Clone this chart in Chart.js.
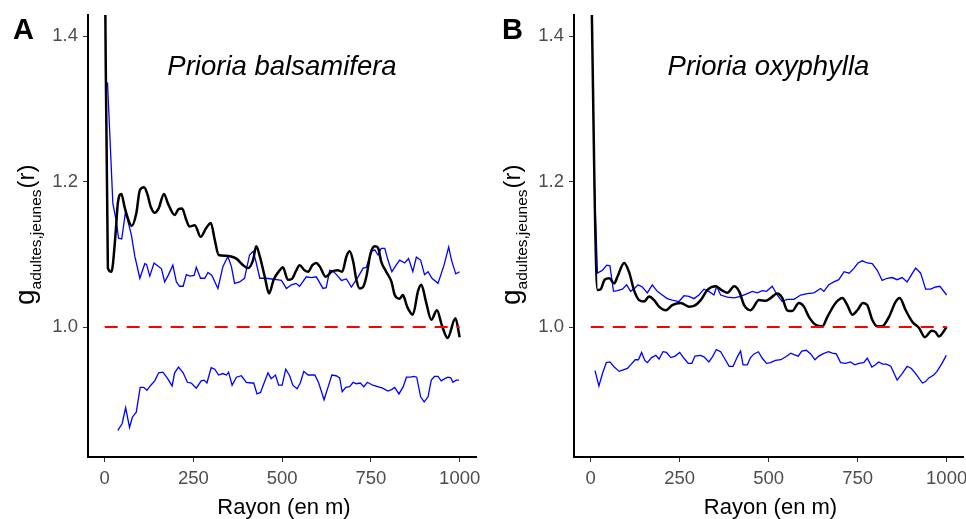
<!DOCTYPE html>
<html>
<head>
<meta charset="utf-8">
<script src="https://cdn.jsdelivr.net/npm/chart.js@4.4.1/dist/chart.umd.min.js"></script>
<style>
  body { margin: 0; background: #fff; width: 966px; height: 519px; overflow: hidden; }
  .panel { position: absolute; top: 0; }
</style>
</head>
<body>
<div class="panel" style="left:0"><canvas id="chartA" width="483" height="519"></canvas></div>
<div class="panel" style="left:486px"><canvas id="chartB" width="480" height="519"></canvas></div>
<script>
const xTicks = [0, 250, 500, 750, 1000];
const yTicks = [1.0, 1.2, 1.4];
const refX = [0, 1000];
const refY = [1, 1];

// A : Prioria balsamifera - observed g(r)
const obsAx = [0, 9, 19, 30, 37, 47, 56, 70, 76, 89, 99, 111, 120, 130, 141, 152, 167, 178, 197, 208, 218, 230, 239, 254, 270, 286, 299, 310, 321, 340, 356, 371, 390, 404, 418, 427, 437, 451, 463, 476, 493, 502, 516, 527, 538, 549, 563, 573, 585, 596, 606, 623, 639, 657, 669, 681, 690, 700, 709, 718, 728, 737, 749, 761, 770, 779, 793, 808, 817, 831, 840, 852, 868, 883, 892, 905, 920, 936, 950, 966, 988, 1000];
const obsAy = [1.55, 1.081, 1.076, 1.124, 1.17, 1.183, 1.165, 1.143, 1.139, 1.156, 1.188, 1.192, 1.183, 1.165, 1.157, 1.163, 1.183, 1.17, 1.154, 1.162, 1.163, 1.147, 1.138, 1.14, 1.124, 1.136, 1.143, 1.12, 1.099, 1.098, 1.097, 1.094, 1.085, 1.081, 1.092, 1.111, 1.097, 1.069, 1.046, 1.065, 1.078, 1.082, 1.065, 1.066, 1.076, 1.085, 1.078, 1.076, 1.085, 1.088, 1.083, 1.069, 1.076, 1.078, 1.076, 1.097, 1.104, 1.09, 1.065, 1.053, 1.055, 1.069, 1.101, 1.111, 1.109, 1.09, 1.076, 1.062, 1.044, 1.039, 1.044, 1.028, 1.017, 1.05, 1.058, 1.035, 1.01, 1.023, 1.002, 0.985, 1.012, 0.986];

// A : upper envelope
const hiAx = [8, 23, 33, 39, 48, 58, 63, 75, 85, 99, 113, 118, 127, 139, 150, 160, 169, 180, 192, 202, 211, 221, 230, 240, 252, 258, 270, 282, 291, 302, 319, 333, 347, 357, 366, 380, 394, 408, 418, 426, 437, 456, 470, 484, 498, 512, 526, 539, 549, 568, 582, 596, 615, 624, 634, 643, 653, 667, 681, 695, 714, 728, 737, 751, 761, 770, 779, 789, 798, 809, 821, 831, 845, 856, 868, 878, 890, 901, 911, 922, 939, 956, 969, 977, 989, 1000];
const hiAy = [1.336, 1.17, 1.145, 1.122, 1.121, 1.156, 1.15, 1.127, 1.097, 1.067, 1.087, 1.086, 1.07, 1.088, 1.084, 1.08, 1.062, 1.072, 1.085, 1.062, 1.056, 1.056, 1.072, 1.07, 1.071, 1.082, 1.067, 1.067, 1.075, 1.071, 1.053, 1.083, 1.097, 1.083, 1.06, 1.062, 1.067, 1.099, 1.104, 1.09, 1.067, 1.067, 1.066, 1.065, 1.064, 1.053, 1.058, 1.06, 1.056, 1.069, 1.068, 1.069, 1.053, 1.054, 1.078, 1.077, 1.072, 1.064, 1.066, 1.055, 1.069, 1.081, 1.082, 1.104, 1.106, 1.099, 1.108, 1.108, 1.092, 1.076, 1.085, 1.092, 1.088, 1.094, 1.076, 1.096, 1.092, 1.072, 1.076, 1.067, 1.06, 1.085, 1.11, 1.092, 1.073, 1.076];

// A : lower envelope
const loAx = [37, 49, 59, 70, 78, 89, 100, 110, 119, 130, 141, 152, 164, 176, 190, 197, 208, 221, 233, 244, 258, 272, 280, 288, 300, 310, 321, 333, 343, 349, 359, 371, 385, 399, 413, 420, 429, 439, 449, 460, 469, 481, 490, 500, 510, 521, 530, 542, 551, 561, 573, 592, 603, 618, 629, 640, 652, 662, 669, 679, 690, 700, 709, 720, 730, 740, 755, 769, 783, 798, 808, 817, 829, 841, 850, 862, 871, 879, 890, 900, 911, 920, 929, 939, 948, 958, 967, 975, 981, 990, 998];
const loAy = [0.858, 0.867, 0.889, 0.862, 0.876, 0.883, 0.917, 0.917, 0.913, 0.92, 0.926, 0.937, 0.938, 0.93, 0.919, 0.937, 0.945, 0.937, 0.924, 0.923, 0.916, 0.926, 0.927, 0.923, 0.944, 0.942, 0.934, 0.936, 0.934, 0.938, 0.92, 0.931, 0.933, 0.924, 0.923, 0.923, 0.908, 0.91, 0.923, 0.937, 0.929, 0.934, 0.92, 0.92, 0.942, 0.933, 0.92, 0.915, 0.923, 0.939, 0.934, 0.934, 0.923, 0.9, 0.917, 0.934, 0.933, 0.93, 0.911, 0.917, 0.918, 0.924, 0.922, 0.923, 0.918, 0.924, 0.92, 0.918, 0.916, 0.912, 0.914, 0.917, 0.908, 0.918, 0.931, 0.931, 0.932, 0.931, 0.904, 0.897, 0.904, 0.927, 0.932, 0.932, 0.926, 0.929, 0.931, 0.93, 0.924, 0.927, 0.927];

// B : Prioria oxyphylla - observed g(r)
const obsBx = [0, 19, 28, 39, 52, 66, 75, 94, 108, 122, 136, 150, 164, 178, 192, 211, 229, 253, 276, 290, 309, 328, 351, 370, 384, 403, 417, 431, 449, 473, 492, 506, 524, 538, 552, 566, 585, 599, 613, 632, 651, 665, 688, 707, 721, 735, 749, 765, 777, 791, 805, 819, 838, 857, 868, 885, 904, 922, 939, 958, 969, 978, 1000];
const obsBy = [1.52, 1.051, 1.052, 1.065, 1.067, 1.06, 1.069, 1.088, 1.075, 1.05, 1.037, 1.035, 1.042, 1.037, 1.028, 1.023, 1.03, 1.033, 1.028, 1.029, 1.037, 1.051, 1.056, 1.05, 1.047, 1.056, 1.049, 1.03, 1.023, 1.037, 1.036, 1.04, 1.046, 1.04, 1.023, 1.022, 1.033, 1.028, 1.014, 1.003, 1.001, 1.014, 1.033, 1.04, 1.03, 1.017, 1.023, 1.033, 1.03, 1.01, 1.001, 1.001, 1.014, 1.035, 1.04, 1.023, 1.007, 0.999, 0.986, 0.995, 0.993, 0.987, 1.0];

// B : upper envelope
const hiBx = [10, 19, 33, 45, 54, 64, 75, 89, 101, 112, 123, 133, 145, 159, 173, 187, 201, 215, 229, 248, 262, 276, 290, 304, 318, 332, 346, 354, 365, 384, 403, 421, 440, 454, 468, 482, 494, 510, 524, 538, 552, 571, 590, 609, 627, 646, 655, 669, 683, 697, 712, 726, 740, 751, 763, 777, 791, 805, 819, 833, 847, 861, 875, 889, 904, 913, 927, 941, 955, 969, 981, 1000];
const hiBy = [1.2, 1.074, 1.078, 1.085, 1.084, 1.049, 1.05, 1.052, 1.058, 1.049, 1.053, 1.058, 1.055, 1.047, 1.058, 1.049, 1.044, 1.039, 1.037, 1.035, 1.043, 1.042, 1.039, 1.044, 1.052, 1.049, 1.044, 1.056, 1.044, 1.041, 1.04, 1.042, 1.046, 1.049, 1.047, 1.05, 1.049, 1.056, 1.044, 1.035, 1.038, 1.038, 1.044, 1.046, 1.047, 1.053, 1.049, 1.058, 1.062, 1.065, 1.076, 1.074, 1.081, 1.088, 1.091, 1.088, 1.087, 1.078, 1.064, 1.067, 1.068, 1.065, 1.068, 1.062, 1.074, 1.081, 1.074, 1.052, 1.052, 1.055, 1.056, 1.044];

// B : lower envelope
const loBx = [12, 23, 33, 44, 54, 66, 80, 91, 103, 112, 125, 134, 143, 152, 159, 171, 183, 192, 203, 213, 225, 237, 250, 262, 274, 284, 293, 309, 318, 332, 342, 353, 365, 377, 389, 400, 412, 421, 428, 440, 449, 459, 471, 482, 494, 505, 519, 534, 548, 562, 571, 583, 593, 606, 618, 630, 641, 652, 668, 679, 690, 702, 716, 730, 742, 753, 767, 777, 790, 800, 809, 820, 831, 843, 861, 875, 889, 901, 913, 932, 941, 950, 964, 973, 987, 999];
const loBy = [0.94, 0.919, 0.936, 0.951, 0.952, 0.945, 0.939, 0.941, 0.943, 0.948, 0.955, 0.955, 0.965, 0.954, 0.951, 0.958, 0.961, 0.956, 0.966, 0.965, 0.958, 0.96, 0.965, 0.957, 0.95, 0.95, 0.96, 0.961, 0.959, 0.952, 0.959, 0.969, 0.966, 0.956, 0.946, 0.946, 0.959, 0.967, 0.948, 0.948, 0.958, 0.963, 0.966, 0.957, 0.95, 0.951, 0.954, 0.955, 0.959, 0.964, 0.962, 0.96, 0.967, 0.968, 0.963, 0.955, 0.96, 0.963, 0.966, 0.964, 0.963, 0.951, 0.95, 0.952, 0.948, 0.95, 0.951, 0.957, 0.945, 0.948, 0.952, 0.949, 0.949, 0.946, 0.927, 0.936, 0.946, 0.943, 0.936, 0.923, 0.925, 0.93, 0.934, 0.939, 0.95, 0.961];

const FONT = '"Liberation Sans", Arial, sans-serif';

function pts(xs, ys) {
  return xs.map((x, i) => ({ x: x, y: ys[i] }));
}

// titles, panel letter and the y label with its subscript
const panelText = {
  id: 'panelText',
  afterDraw(chart, args, opts) {
    const { ctx, chartArea } = chart;
    const cx = (chartArea.left + chartArea.right) / 2;
    ctx.save();
    ctx.fillStyle = '#000';
    ctx.textBaseline = 'alphabetic';
    ctx.textAlign = 'left';
    ctx.font = 'bold 29px ' + FONT;
    ctx.fillText(opts.letter, opts.letterX, 39);

    ctx.textAlign = 'center';
    ctx.font = 'italic 27.5px ' + FONT;
    ctx.fillText(opts.title, cx, 75);

    ctx.font = '22px ' + FONT;
    ctx.fillText('Rayon (en m)', cx + 2, 514);

    ctx.translate(34, 305);
    ctx.rotate(-Math.PI / 2);
    ctx.textAlign = 'left';
    ctx.font = '28px ' + FONT;
    ctx.fillText('g', 0, 0);
    let w = ctx.measureText('g').width;
    ctx.font = '15.5px ' + FONT;
    ctx.fillText('adultes,jeunes', w, 7);
    w += ctx.measureText('adultes,jeunes').width + 1;
    ctx.font = '24px ' + FONT;
    ctx.fillText('(r)', w, 0);
    ctx.restore();
  }
};

function makeChart(id, obs, hi, lo, title, letter, letterX, padRight) {
  return new Chart(document.getElementById(id), {
    type: 'line',
    data: {
      datasets: [
        { data: pts(refX, refY), borderColor: '#ff0000', borderWidth: 2, borderDash: [13, 9] },
        { data: obs, borderColor: '#000', borderWidth: 2.5, cubicInterpolationMode: 'monotone' },
        { data: hi, borderColor: '#0000ff', borderWidth: 1.3 },
        { data: lo, borderColor: '#0000ff', borderWidth: 1.3 }
      ]
    },
    options: {
      responsive: false,
      animation: false,
      devicePixelRatio: 1,
      layout: { padding: { top: 15, right: padRight, bottom: 0, left: 0 } },
      elements: { point: { radius: 0 }, line: { tension: 0, fill: false } },
      plugins: {
        legend: { display: false },
        tooltip: { enabled: false },
        panelText: { title: title, letter: letter, letterX: letterX }
      },
      scales: {
        x: {
          type: 'linear',
          min: -47,
          max: 1046,
          afterBuildTicks: s => { s.ticks = xTicks.map(v => ({ value: v })); },
          afterFit: s => { s.height = 62; s.paddingLeft = 0; s.paddingRight = 0; },
          grid: { drawOnChartArea: false, drawTicks: true, tickLength: 5, color: '#333', lineWidth: 1 },
          border: { display: true, color: '#000', width: 2 },
          ticks: {
            color: '#4d4d4d', padding: 6, maxRotation: 0, autoSkip: false,
            font: { family: FONT, size: 18.5 },
            callback: v => String(v)
          }
        },
        y: {
          type: 'linear',
          min: 0.8213,
          max: 1.4289,
          afterBuildTicks: s => { s.ticks = yTicks.map(v => ({ value: v })); },
          afterFit: s => { s.width = 88; s.paddingTop = 0; s.paddingBottom = 0; },
          grid: { drawOnChartArea: false, drawTicks: true, tickLength: 5, color: '#333', lineWidth: 1 },
          border: { display: true, color: '#000', width: 2 },
          ticks: {
            color: '#4d4d4d', padding: 5,
            font: { family: FONT, size: 18.5 },
            callback: v => v.toFixed(1)
          }
        }
      }
    },
    plugins: [panelText]
  });
}

makeChart('chartA', pts(obsAx, obsAy), pts(hiAx, hiAy), pts(loAx, loAy), 'Prioria balsamifera', 'A', 13, 7);
makeChart('chartB', pts(obsBx, obsBy), pts(hiBx, hiBy), pts(loBx, loBy), 'Prioria oxyphylla', 'B', 16, 3);
</script>
</body>
</html>
